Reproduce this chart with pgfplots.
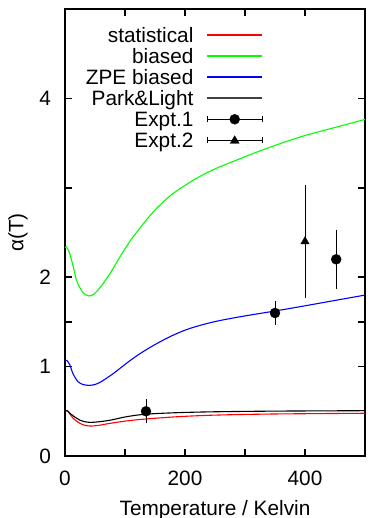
\documentclass[border=0pt]{standalone}
\usepackage{fontspec}
\setmainfont{Liberation Sans}
\usepackage{pgfplots}
\pgfplotsset{compat=1.18}
\begin{document}
\fontsize{20.8bp}{24bp}\selectfont
\begin{tikzpicture}
\useasboundingbox (-65bp,-62bp) rectangle (303bp,456bp);
\begin{axis}[
 at={(0,0)}, anchor=origin,
 scale only axis, width=300bp, height=447bp,
 xmin=0, xmax=500, ymin=0, ymax=5,
 xtick={0,100,200,300,400,500}, xticklabels={0,,200,,400,},
 ytick={0,1,1.5,2,3,4}, yticklabels={0,1,,2,,4},
 /pgf/number format/assume math mode=true,
 tick align=inside, major tick length=7bp,
 tick style={black, line width=1.6bp},
 axis line style={line width=2.4bp},
 xticklabel style={yshift=-8bp},
 yticklabel style={xshift=-7bp},
 xlabel={Temperature / Kelvin},
 ylabel={α(T)},
 x label style={at={(axis description cs:0.5,0)}, anchor=base, yshift=-59bp},
 y label style={at={(axis description cs:-0.157,0.5)}, anchor=center, rotate=0},
 legend style={at={(axis cs:330,4.79)}, anchor=north east, draw=none, fill=none,
   inner sep=0pt, outer sep=0pt, row sep=0pt, column sep=13bp,
   nodes={inner sep=0pt, text height=15bp, text depth=6bp}},
 legend plot pos=right, legend cell align=right,
]
\addlegendimage{legend image code/.code={\draw[color=red, line width=1.6bp] (0bp,3bp) -- (55bp,3bp);}}
\addlegendentry{statistical}
\addlegendimage{legend image code/.code={\draw[color=green, line width=1.6bp] (0bp,3bp) -- (55bp,3bp);}}
\addlegendentry{biased}
\addlegendimage{legend image code/.code={\draw[color=blue, line width=1.6bp] (0bp,3bp) -- (55bp,3bp);}}
\addlegendentry{ZPE biased}
\addlegendimage{legend image code/.code={\draw[color=black!75, line width=1.6bp] (0bp,3bp) -- (55bp,3bp);}}
\addlegendentry{Park\&Light}
\addlegendimage{legend image code/.code={\draw[black, line width=0.8bp] (0bp,0bp)--(0bp,6bp) (0bp,3bp)--(55bp,3bp) (55bp,0bp)--(55bp,6bp); \fill[black] (27.5bp,3bp) circle (5bp);}}
\addlegendentry{Expt.1}
\addlegendimage{legend image code/.code={\draw[black, line width=0.8bp] (0bp,0bp)--(0bp,6bp) (0bp,3bp)--(55bp,3bp) (55bp,0bp)--(55bp,6bp); \fill[black] (27.5bp,7.5bp)--(23bp,0bp)--(32bp,0bp)--cycle;}}
\addlegendentry{Expt.2}
\addplot[red, line width=1.1bp, smooth, forget plot] coordinates {
(0,0.507) (4,0.505) (8,0.47) (14,0.42) (20,0.385) (25,0.365) (32,0.345) (42,0.335) (55,0.342) (75,0.365) (103,0.393) (135,0.414) (189,0.44) (253,0.458) (350,0.47) (500,0.478)};
\addplot[green, line width=1.1bp, smooth, forget plot] coordinates {
(0,2.33) (2,2.34) (5,2.31) (8,2.26) (11,2.19) (14,2.11) (19,1.97) (25,1.88) (31,1.82) (40,1.79) (48,1.81) (58,1.88) (75,2.04) (90,2.21) (108,2.40) (125,2.55) (147,2.73) (175,2.91) (203,3.04) (231,3.15) (258,3.235) (286,3.31) (314,3.385) (342,3.455) (370,3.52) (400,3.585) (450,3.675) (500,3.765)};
\addplot[blue, line width=1.1bp, smooth, forget plot] coordinates {
(0,1.07) (3,1.07) (8,1.02) (14,0.91) (22,0.83) (30,0.8) (40,0.79) (50,0.8) (60,0.83) (80,0.92) (106,1.055) (125,1.145) (147,1.235) (175,1.335) (203,1.415) (230,1.47) (258,1.515) (300,1.567) (350,1.622) (400,1.68) (450,1.74) (500,1.80)};
\addplot[black, line width=1.1bp, smooth, forget plot] coordinates {
(0,0.507) (4,0.505) (8,0.48) (14,0.447) (25,0.40) (32,0.385) (42,0.376) (55,0.382) (75,0.40) (103,0.44) (135,0.468) (189,0.485) (253,0.495) (350,0.502) (500,0.507)};
\addplot[black, only marks, mark=*, mark size=5bp, forget plot,
  error bars/.cd, y dir=both, y explicit,
  error bar style={line width=0.8bp, black},
  error mark options={black, mark size=3bp, line width=0.8bp}]
  coordinates {(135,0.5) +- (0,0.1) (350,1.6) +- (0,0.1) (452,2.2) +- (0,0.3)};
\addplot[black, only marks, mark=triangle*, mark size=4.8bp, forget plot,
  error bars/.cd, y dir=both, y explicit,
  error bar style={line width=0.8bp, black},
  error mark options={black, mark size=3bp, line width=0.8bp}]
  coordinates {(400,2.4) +- (0,0.6)};
\end{axis}
\end{tikzpicture}
\end{document}
